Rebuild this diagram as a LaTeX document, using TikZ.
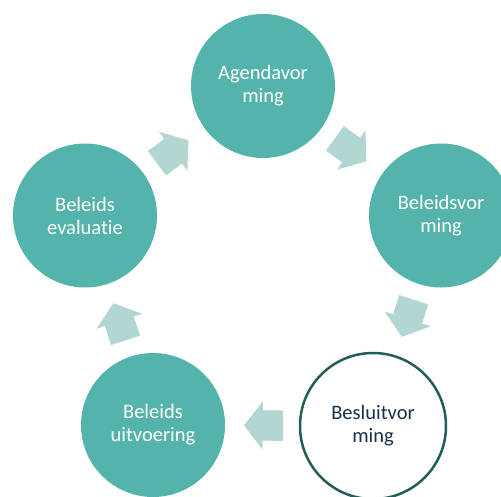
\documentclass[tikz,border=0pt]{standalone}
\usepackage{fontspec}
\setmainfont{Carlito}[Ligatures=CommonOff]
\usepackage{xcolor}
\definecolor{colorPhase}{HTML}{54B4AB}
\definecolor{colorArrow}{HTML}{B2D6D2}
\definecolor{colorBorder}{HTML}{215E57}
\definecolor{colorText}{HTML}{1A2F4B}
\usetikzlibrary{shapes.arrows}
\tikzset{
  phase/.style={circle, fill=colorPhase, text=white, minimum size=144pt, inner sep=0pt, align=center, font=\fontsize{20.5}{23}\selectfont},
  phaseopen/.style={phase, fill=white, draw=colorBorder, line width=2.5pt, text=colorText, minimum size=146pt},
  flow/.style={single arrow, fill=colorArrow, minimum height=39pt, inner xsep=0pt, inner ysep=15pt, single arrow head extend=9pt, single arrow tip angle=104, sloped, allow upside down, pos=0.4},
}

\begin{document}
\begin{tikzpicture}[x=1pt, y=-1pt]
\useasboundingbox (0,0) rectangle (501,496);
% phases of the cycle
\node[phase] (agenda) at (263,86) {Agendavor\\ming};
\node[phase] (beleid) at (441,215.5) {Beleidsvor\\ming};
\node[phaseopen] (besluit) at (373,426) {Besluitvor\\ming};
\node[phase] (uitvoering) at (153,425) {Beleids\\uitvoering};
\node[phase] (evaluatie) at (85,215.5) {Beleids\\evaluatie};
% arrows between phases
\path (agenda) -- node[flow] {} (beleid);
\path (beleid) -- node[flow] {} (besluit);
\path (besluit) -- node[flow] {} (uitvoering);
\path (uitvoering) -- node[flow] {} (evaluatie);
\path (evaluatie) -- node[flow] {} (agenda);
\end{tikzpicture}
\end{document}
